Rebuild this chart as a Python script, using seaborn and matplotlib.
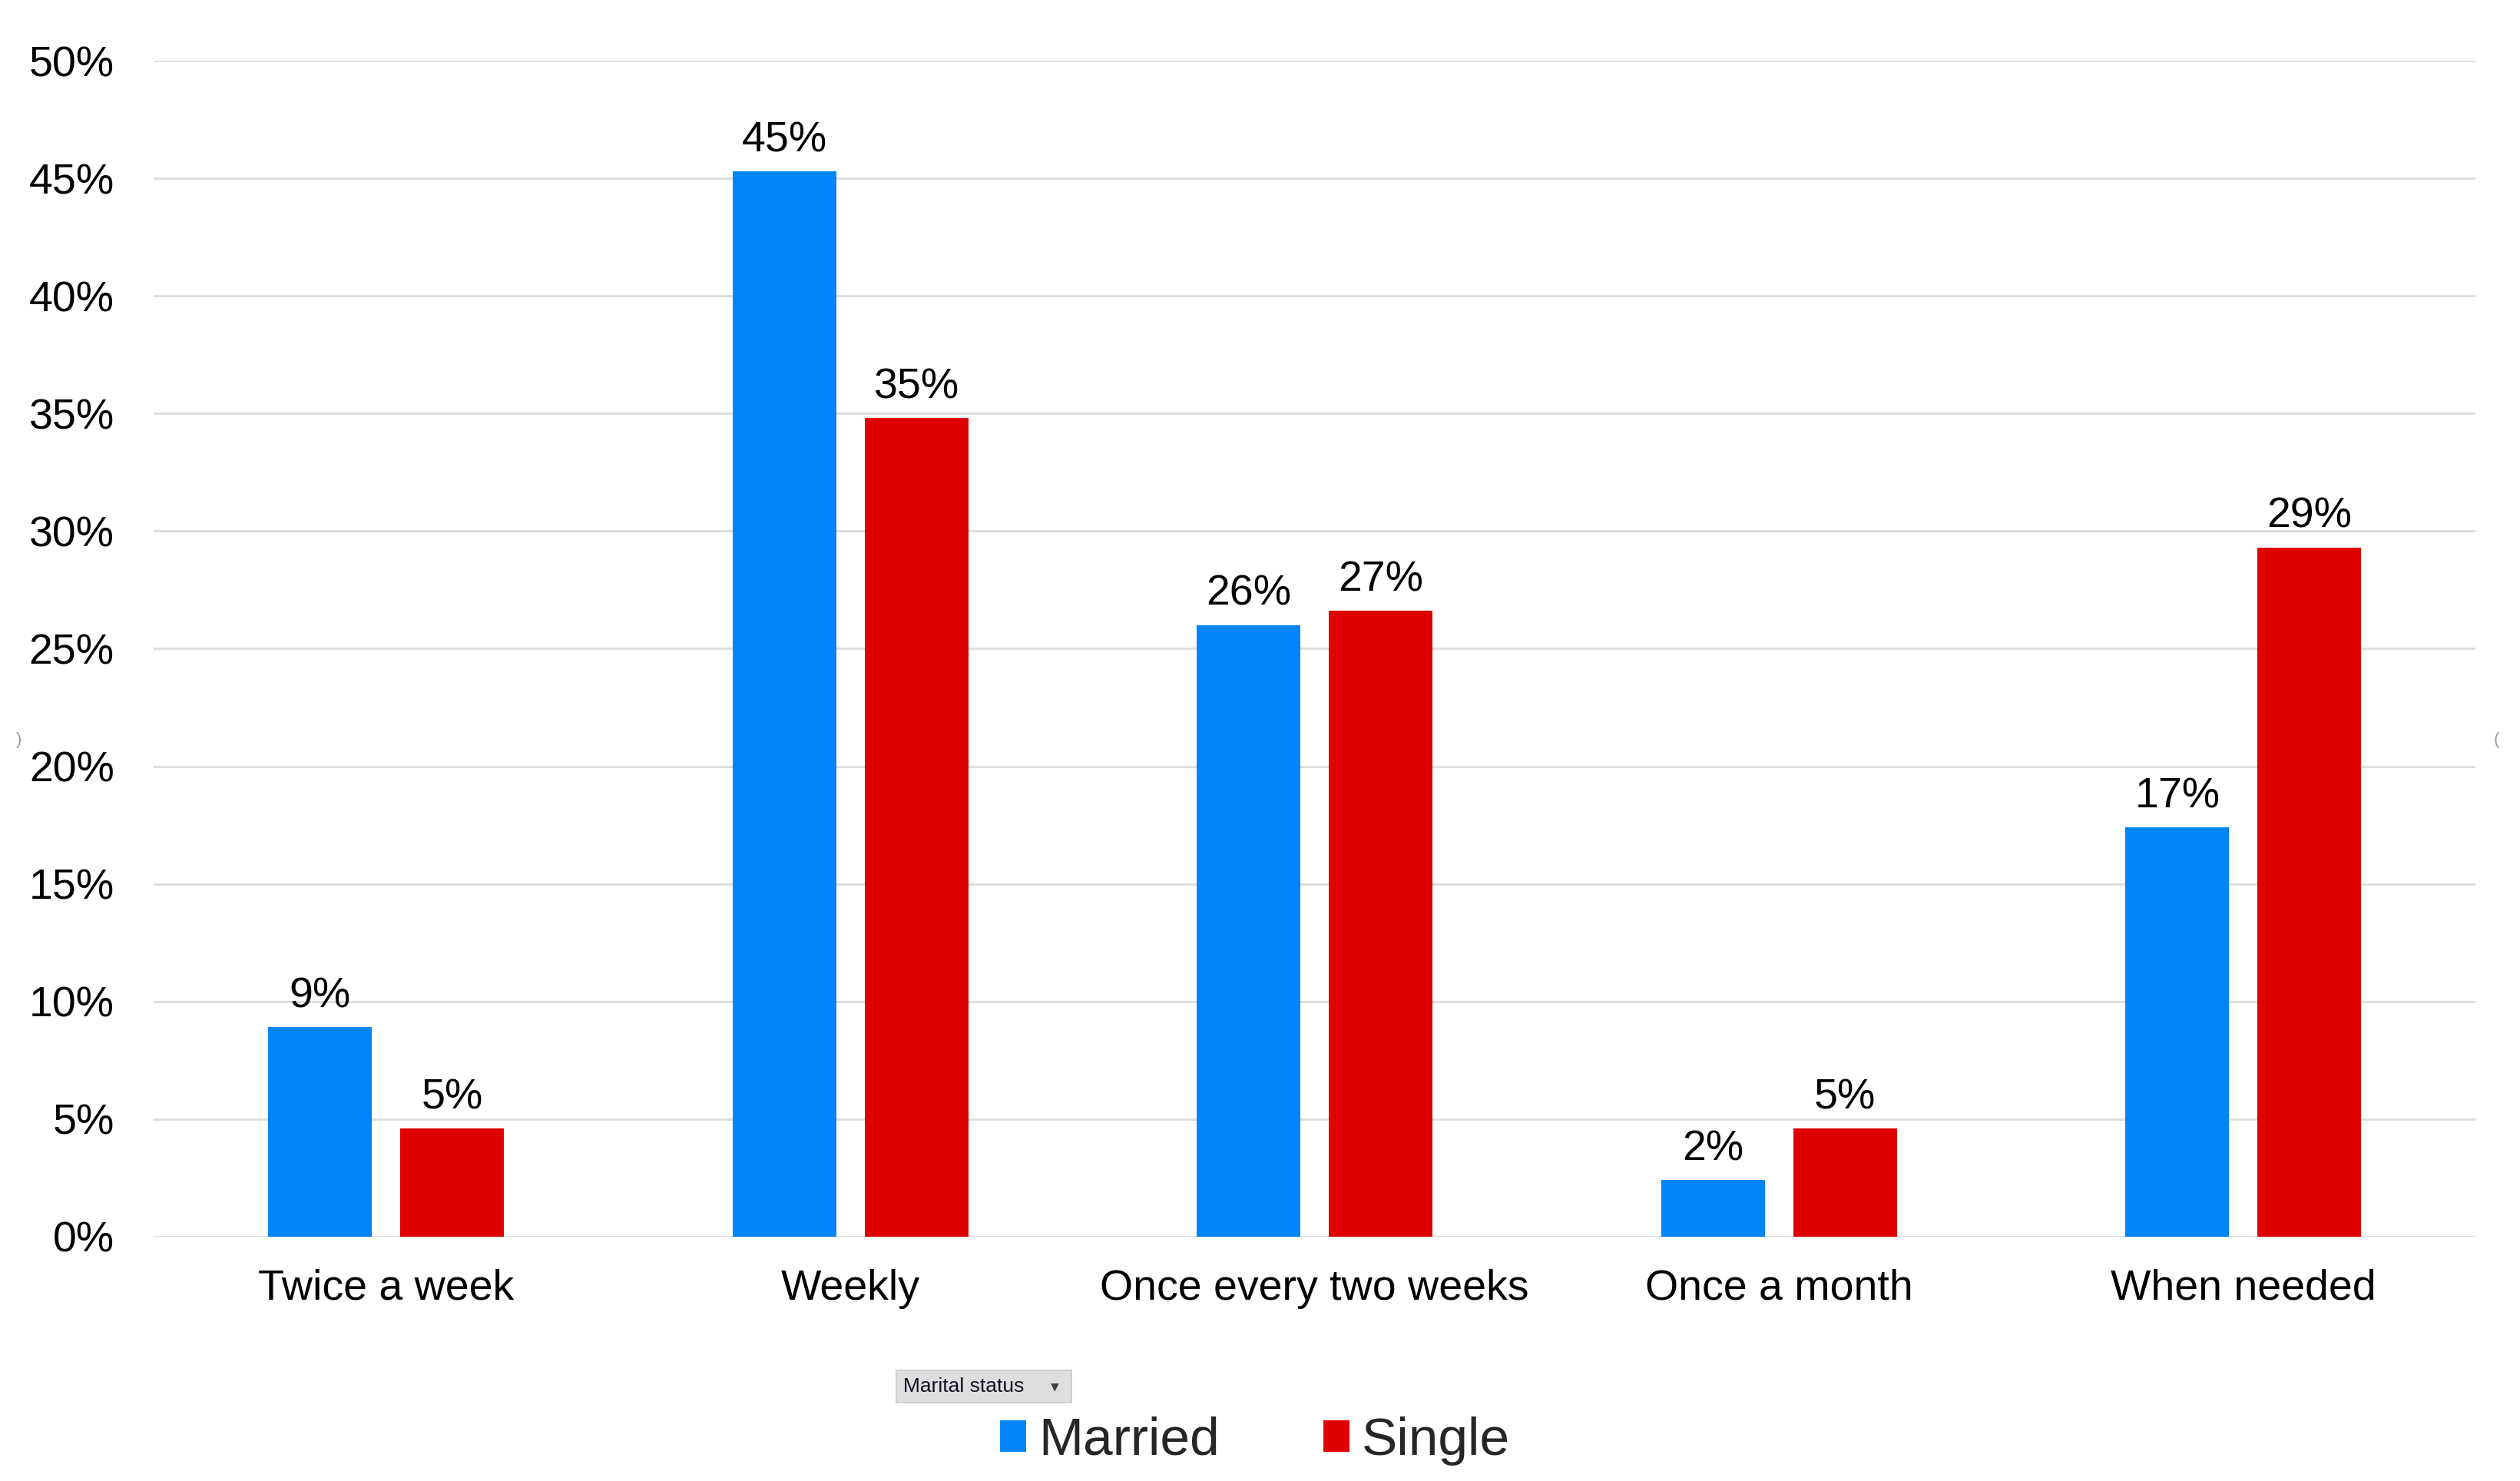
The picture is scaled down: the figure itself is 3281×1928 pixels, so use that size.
"""
Visit frequency by marital status - grouped bar chart
"""
import matplotlib
matplotlib.use('Agg')
import matplotlib.pyplot as plt
from matplotlib.patches import Patch, Rectangle
from matplotlib.ticker import PercentFormatter
import pandas as pd
import seaborn as sns


# Data
categories = ['Twice a week', 'Weekly', 'Once every two weeks', 'Once a month', 'When needed']
married = [0.089, 0.453, 0.260, 0.024, 0.174]
single = [0.046, 0.348, 0.266, 0.046, 0.293]
groups = ['Married', 'Single']
y_ticks = [0.0, 0.05, 0.10, 0.15, 0.20, 0.25, 0.30, 0.35, 0.40, 0.45, 0.50]

colors = {'Married': '#0085F9', 'Single': '#DF0000'}
FONT = ['Liberation Sans', 'DejaVu Sans']


def build_frame():
    """Long-format table for seaborn"""
    rows = []
    for cat, m, s in zip(categories, married, single):
        rows.append({'freq': cat, 'status': 'Married', 'pct': m})
        rows.append({'freq': cat, 'status': 'Single', 'pct': s})
    return pd.DataFrame(rows)


def main():
    sns.set_style('white')
    plt.rcParams['font.family'] = FONT

    df = build_frame()

    fig = plt.figure(figsize=(32.81, 19.28), dpi=100)
    ax = fig.add_axes([0.061, 0.165, 0.9214, 0.794])

    sns.barplot(
        data=df, x='freq', y='pct', hue='status',
        order=categories, hue_order=groups,
        palette=colors, saturation=1,
        width=0.569, gap=0.215, linewidth=0,
        legend=False, ax=ax
    )

    # Value labels on top of bars
    for container in ax.containers:
        ax.bar_label(container, fmt=lambda v: f'{v:.0%}', padding=10,
                     fontsize=40, color='black', clip_on=False)

    # Axes styling
    ax.set_xlim(-0.5, len(categories) - 0.5)
    ax.set_ylim(0, 0.5)
    ax.set_yticks(y_ticks)
    ax.yaxis.set_major_formatter(PercentFormatter(1, decimals=0))
    ax.grid(axis='y', color='#DEDEDE', linewidth=2.2)
    ax.grid(axis='x', visible=False)
    ax.set_axisbelow(True)
    for spine in ax.spines.values():
        spine.set_visible(False)
    ax.tick_params(axis='y', length=0, pad=37, labelsize=40, labelcolor='black')
    ax.tick_params(axis='x', length=0, pad=30, labelsize=40, labelcolor='black')
    ax.set_xlabel('')
    ax.set_ylabel('')

    # Legend
    handles = [Patch(facecolor=colors[g], edgecolor='none') for g in groups]
    fig.legend(handles, groups, loc='center', bbox_to_anchor=(0.498, 0.027),
               ncol=2, frameon=False, fontsize=50, handlelength=0.49,
               handleheight=0.52, handletextpad=0.23, columnspacing=1.95,
               borderpad=0)

    # Pivot field button above the legend
    fig.patches.append(Rectangle((0.3557, 0.0528), 0.0695, 0.0218,
                                 transform=fig.transFigure, facecolor='#DEDEDE',
                                 edgecolor='#CACACA', linewidth=1.2))
    fig.text(0.3585, 0.0637, 'Marital status', fontsize=19, va='center', ha='left',
             color='#111122')
    fig.text(0.4185, 0.0637, '\u25BC', fontsize=10, va='center', ha='center',
             color='#404040', family=['DejaVu Sans'])

    # Little resize-handle scraps at the edges
    fig.text(0.0076, 0.500, ')', fontsize=16, color='#9A9A9A', va='center', ha='center')
    fig.text(0.9906, 0.500, '(', fontsize=16, color='#9A9A9A', va='center', ha='center')

    fig.savefig('out.png', dpi=100, facecolor='white')
    plt.close(fig)


if __name__ == '__main__':
    main()
